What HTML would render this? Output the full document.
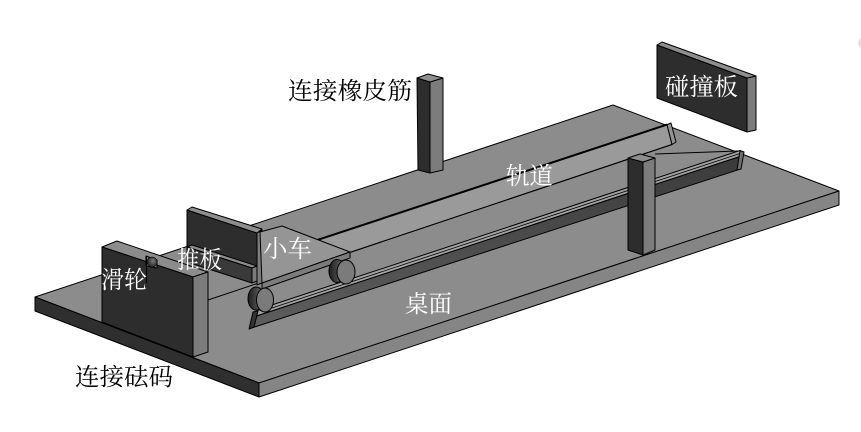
<!DOCTYPE html>
<html>
<head>
<meta charset="utf-8">
<style>
  html,body{margin:0;padding:0;background:#fff;}
  svg{display:block;}
  text{font-family:"Liberation Serif","Noto Serif CJK SC",serif;font-size:24px;}
</style>
</head>
<body>
<svg width="861" height="432" viewBox="0 0 861 432" xmlns="http://www.w3.org/2000/svg">
  <defs>
    <linearGradient id="rail" x1="0" y1="0" x2="0" y2="1">
      <stop offset="0" stop-color="#3a3a3a"/>
      <stop offset="1" stop-color="#5e5e5e"/>
    </linearGradient>
    <linearGradient id="wheel" x1="0" y1="0" x2="1" y2="0">
      <stop offset="0" stop-color="#1c1c1c"/>
      <stop offset="1" stop-color="#6e6e6e"/>
    </linearGradient>
    <radialGradient id="ball" cx="0.6" cy="0.4" r="0.7">
      <stop offset="0" stop-color="#777"/>
      <stop offset="1" stop-color="#1a1a1a"/>
    </radialGradient>
  </defs>
  <rect width="861" height="432" fill="#fff"/>
  <ellipse cx="862" cy="43" rx="4" ry="5" fill="#e2e2e2"/>

  <g stroke="#000" stroke-width="1" stroke-linejoin="round">
    <!-- table -->
    <polygon points="35,297 259,383 839,191 613,105" fill="#8c8c8c"/>
    <polygon points="35,297 259,383 259,397 35,311" fill="#2f2f2f"/>
    <polygon points="259,383 839,191 839,205 259,397" fill="#858585"/>

    <!-- upper rail -->
    <polygon points="282,251.6 667,124.6 672,144.5 282,275.2" fill="#9a9a9a"/>
    <polygon points="667,124.6 671,123 676,142 672,144.5" fill="#939393"/>
    <!-- lower rail light strip -->
    <polygon points="257,309.9 740,150.5 740,156.5 257,315.9" fill="#a2a2a2"/>
    <!-- lower rail dark face -->
    <polygon points="257,315.9 740,156.5 737,170.2 250,328.5" fill="url(#rail)"/>
    <polygon points="740,150.5 744,152 741,169 737,170.2" fill="#707070"/>
    <polygon points="253,312 258,311 254,327 249,329" fill="#333"/>
  </g>
  <g stroke="#000" fill="none">
    <line x1="300" y1="245.7" x2="667" y2="124.6" stroke-width="2"/>
    <line x1="208" y1="300" x2="672" y2="144.5" stroke-width="1"/>
    <line x1="262" y1="311.3" x2="740" y2="153.5" stroke-width="0.8"/>
    <line x1="655" y1="154" x2="738" y2="151" stroke-width="1"/>
  </g>

  <g stroke="#000" stroke-width="1" stroke-linejoin="round">
    <!-- rubber band pole -->
    <polygon points="417,78 430,82 430,173 418,170" fill="#2d2d2d"/>
    <polygon points="430,82 443,78 443,170 430,173" fill="#7c7c7c"/>
    <polygon points="417,78 428,74 443,78 430,82" fill="#8e8e8e"/>

    <!-- right pole -->
    <polygon points="628,158 643,162 643,255 628,250" fill="#2d2d2d"/>
    <polygon points="643,162 655,158 655,250 643,255" fill="#7c7c7c"/>
    <polygon points="628,158 640,154 655,158 643,162" fill="#8e8e8e"/>

    <!-- collision board -->
    <polygon points="657,45 747,78 747,132 657,98" fill="#2d2d2d"/>
    <polygon points="747,78 756,76 756,130 747,132" fill="#7c7c7c"/>
    <polygon points="657,45 662,42 756,76 747,78" fill="#8e8e8e"/>

    <!-- push plate -->
    <polygon points="187,210 257,233 257,270 187,247" fill="#2d2d2d"/>
    <polygon points="187,210 192,207 262,229 257,233" fill="#8e8e8e"/>
    <polygon points="257,233 262,230 262,283 257,285" fill="#7c7c7c"/>
    <!-- ledge -->
    <polygon points="187,247 192,245 257,266 252,268" fill="#8c8c8c"/>
    <polygon points="187,247 252,268 252,283 187,262" fill="#3a3a3a"/>
    <polygon points="252,268 257,266 257,281 252,283" fill="#7c7c7c"/>

    <!-- left block -->
    <polygon points="102,247 117,241 208,272 193,277" fill="#8c8c8c"/>
    <polygon points="102,247 193,277 193,357 102,322" fill="#2d2d2d"/>
    <polygon points="193,277 208,272 208,352 193,357" fill="#7c7c7c"/>
    <polygon points="146,256 157,260 157,268 146,266" fill="#777"/>
  </g>
  <line x1="146.5" y1="256" x2="146.5" y2="283" stroke="#000" stroke-width="1"/>
  <circle cx="152" cy="262" r="5" fill="url(#ball)" stroke="#000" stroke-width="0.6"/>

  <g stroke="#000" stroke-width="1" stroke-linejoin="round">
    <!-- cart -->
    <polygon points="260,232 282,226 350,252 262,283" fill="#959595"/>
    <polygon points="262,283 350,252 350,258 262,289" fill="#7c7c7c"/>
    <!-- back wheel -->
    <polygon points="337,260 346,260 346,284 337,282" fill="url(#wheel)" stroke="none"/>
    <ellipse cx="337" cy="271" rx="8" ry="11.5" fill="url(#wheel)"/>
    <ellipse cx="346" cy="272" rx="9" ry="12" fill="#7b7b7b"/>
    <!-- front wheel -->
    <polygon points="256,287 265,288 265,312 256,310" fill="url(#wheel)" stroke="none"/>
    <ellipse cx="256" cy="298.5" rx="8" ry="11.5" fill="url(#wheel)"/>
    <ellipse cx="265" cy="300" rx="8.5" ry="12" fill="#7b7b7b"/>
  </g>

  <!-- labels -->
  <text x="288" y="99" fill="#000" textLength="124" lengthAdjust="spacingAndGlyphs">连接橡皮筋</text>
  <text x="665" y="95" fill="#fff" textLength="73" lengthAdjust="spacingAndGlyphs">碰撞板</text>
  <text x="506" y="184" fill="#fff" textLength="47" lengthAdjust="spacingAndGlyphs">轨道</text>
  <text x="263" y="257" fill="#fff" textLength="49" lengthAdjust="spacingAndGlyphs">小车</text>
  <text x="177" y="268" fill="#fff" textLength="45" lengthAdjust="spacingAndGlyphs">推板</text>
  <text x="101" y="288" fill="#fff" textLength="46" lengthAdjust="spacingAndGlyphs">滑轮</text>
  <text x="405" y="312" fill="#fff" textLength="47" lengthAdjust="spacingAndGlyphs">桌面</text>
  <text x="75" y="385" fill="#000" textLength="98" lengthAdjust="spacingAndGlyphs">连接砝码</text>
</svg>
</body>
</html>
